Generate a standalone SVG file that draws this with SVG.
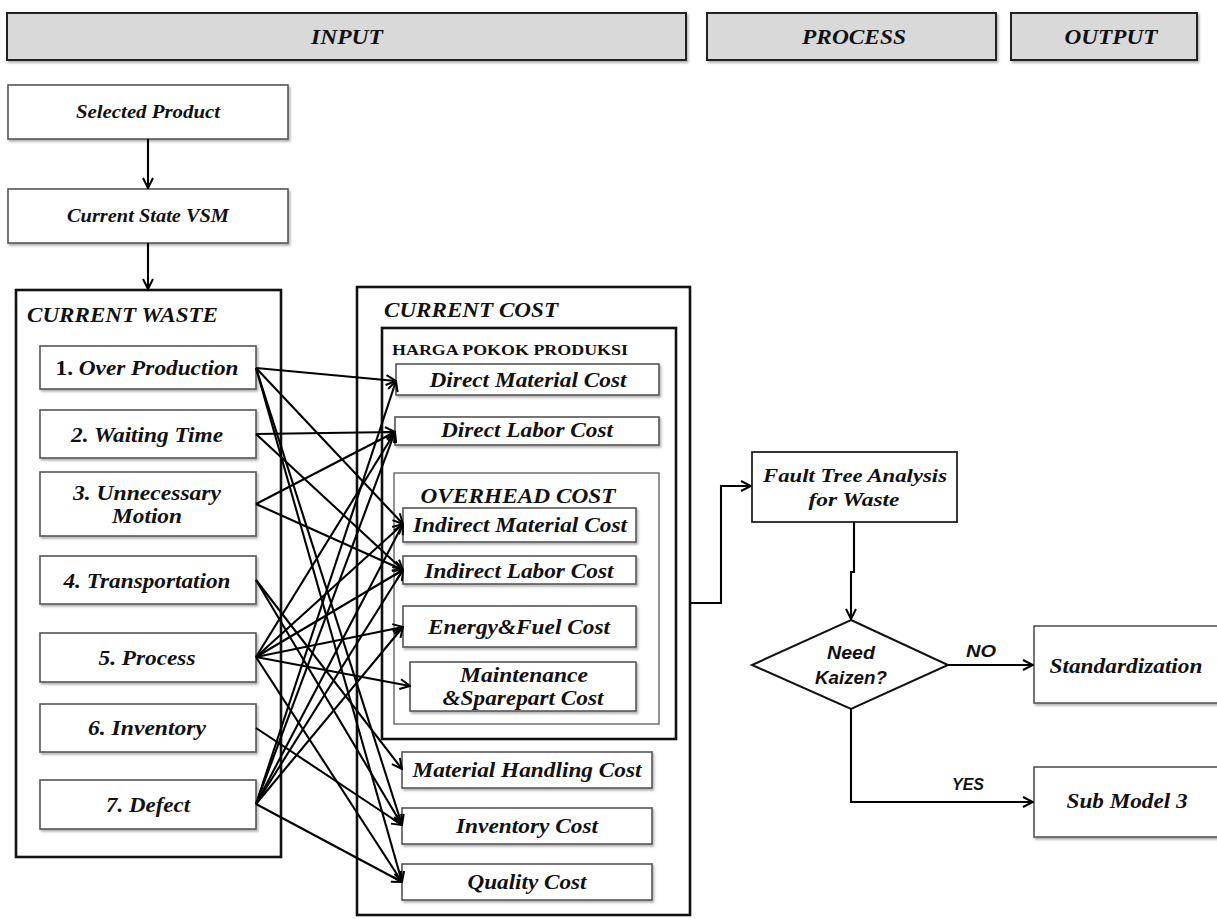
<svg xmlns="http://www.w3.org/2000/svg" width="1217" height="919" viewBox="0 0 1217 919">
<defs>
<marker id="ah" viewBox="0 0 12 12" refX="11" refY="6" markerWidth="12" markerHeight="12" markerUnits="userSpaceOnUse" orient="auto">
<path d="M1,1 L11,6 L1,11" fill="none" stroke="#000" stroke-width="2"/>
</marker>
<filter id="sh" x="-5%" y="-5%" width="110%" height="120%">
<feDropShadow dx="1.5" dy="2" stdDeviation="1" flood-color="#000" flood-opacity="0.3"/>
</filter>
</defs>
<style>
.hdr{fill:#d9d9d9;stroke:#222;stroke-width:2;filter:url(#sh)}
.box{fill:#fff;stroke:#555;stroke-width:1.6;filter:url(#sh)}
.cont{fill:none;stroke:#111;stroke-width:2.6}
.sub{fill:none;stroke:#666;stroke-width:1.4}
.t{font-family:"Liberation Serif",serif;font-weight:bold;font-style:italic;fill:#111;text-anchor:middle}
.l{text-anchor:start}
.s{font-family:"Liberation Sans",sans-serif;font-weight:bold;font-style:italic;fill:#111;text-anchor:middle}
.c line,.c path{stroke:#000;stroke-width:2.1;fill:none;marker-end:url(#ah)}
</style>

<g id="header-input"><rect class="hdr" x="7" y="13" width="679" height="47"/><text class="t" x="347" y="44" font-size="20" textLength="72" lengthAdjust="spacingAndGlyphs">INPUT</text></g>
<g id="header-process"><rect class="hdr" x="707" y="13" width="289" height="47"/><text class="t" x="854" y="44" font-size="20" textLength="104" lengthAdjust="spacingAndGlyphs">PROCESS</text></g>
<g id="header-output"><rect class="hdr" x="1011" y="13" width="186" height="47"/><text class="t" x="1111" y="44" font-size="20" textLength="93" lengthAdjust="spacingAndGlyphs">OUTPUT</text></g>

<g id="selected-product"><rect class="box" x="8" y="85" width="280" height="54"/><text class="t" x="148" y="118" font-size="18" textLength="144" lengthAdjust="spacingAndGlyphs">Selected Product</text></g>
<g id="current-state-vsm"><rect class="box" x="8" y="189" width="280" height="54"/><text class="t" x="148" y="222" font-size="18" textLength="162" lengthAdjust="spacingAndGlyphs">Current State VSM</text></g>

<g id="current-waste"><rect class="cont" x="16" y="290" width="265" height="567"/><text class="t l" x="27" y="322" font-size="20" textLength="191" lengthAdjust="spacingAndGlyphs">CURRENT WASTE</text></g>
<g id="w1"><rect class="box" x="40" y="346" width="216" height="43"/><text class="t" x="147" y="375" font-size="22" textLength="183" lengthAdjust="spacingAndGlyphs"><tspan font-style="normal">1. </tspan>Over Production</text></g>
<g id="w2"><rect class="box" x="40" y="410" width="216" height="48"/><text class="t" x="147" y="442" font-size="22" textLength="152" lengthAdjust="spacingAndGlyphs">2. Waiting Time</text></g>
<g id="w3"><rect class="box" x="40" y="472" width="216" height="64"/><text class="t" x="147" y="500" font-size="22" textLength="148" lengthAdjust="spacingAndGlyphs">3. Unnecessary</text><text class="t" x="147" y="523" font-size="22" textLength="70" lengthAdjust="spacingAndGlyphs">Motion</text></g>
<g id="w4"><rect class="box" x="40" y="556" width="216" height="48"/><text class="t" x="147" y="588" font-size="22" textLength="167" lengthAdjust="spacingAndGlyphs">4. Transportation</text></g>
<g id="w5"><rect class="box" x="40" y="633" width="216" height="49"/><text class="t" x="147" y="665" font-size="22" textLength="97" lengthAdjust="spacingAndGlyphs">5. Process</text></g>
<g id="w6"><rect class="box" x="40" y="704" width="216" height="48"/><text class="t" x="147" y="735" font-size="22" textLength="118" lengthAdjust="spacingAndGlyphs">6. Inventory</text></g>
<g id="w7"><rect class="box" x="40" y="780" width="216" height="49"/><text class="t" x="148" y="812" font-size="22" textLength="84" lengthAdjust="spacingAndGlyphs">7. Defect</text></g>

<g id="current-cost"><rect class="cont" x="357" y="287" width="333" height="628"/><text class="t l" x="384" y="317" font-size="20" textLength="174" lengthAdjust="spacingAndGlyphs">CURRENT COST</text></g>
<g id="hpp"><rect class="cont" x="382" y="328" width="294" height="411"/><text x="392" y="355" font-family="Liberation Serif,serif" font-weight="bold" font-size="14" fill="#111" textLength="236" lengthAdjust="spacingAndGlyphs">HARGA POKOK PRODUKSI</text></g>
<g id="dmc"><rect class="box" x="396" y="364" width="263" height="31"/><text class="t" x="528" y="387" font-size="20" textLength="197" lengthAdjust="spacingAndGlyphs">Direct Material Cost</text></g>
<g id="dlc"><rect class="box" x="395" y="417" width="264" height="28"/><text class="t" x="527" y="437" font-size="20" textLength="172" lengthAdjust="spacingAndGlyphs">Direct Labor Cost</text></g>
<g id="overhead"><rect class="sub" x="394" y="473" width="265" height="251"/><text class="t" x="518" y="503" font-size="20" textLength="195" lengthAdjust="spacingAndGlyphs">OVERHEAD COST</text></g>
<g id="imc"><rect class="box" x="403" y="508" width="233" height="34"/><text class="t" x="520" y="532" font-size="20" textLength="214" lengthAdjust="spacingAndGlyphs">Indirect Material Cost</text></g>
<g id="ilc"><rect class="box" x="403" y="556" width="233" height="28"/><text class="t" x="519" y="578" font-size="20" textLength="189" lengthAdjust="spacingAndGlyphs">Indirect Labor Cost</text></g>
<g id="efc"><rect class="box" x="403" y="606" width="233" height="41"/><text class="t" x="519" y="634" font-size="20" textLength="182" lengthAdjust="spacingAndGlyphs">Energy&amp;Fuel Cost</text></g>
<g id="msc"><rect class="box" x="410" y="662" width="226" height="49"/><text class="t" x="524" y="682" font-size="20" textLength="128" lengthAdjust="spacingAndGlyphs">Maintenance</text><text class="t" x="523" y="705" font-size="20" textLength="161" lengthAdjust="spacingAndGlyphs">&amp;Sparepart Cost</text></g>
<g id="mhc"><rect class="box" x="402" y="752" width="250" height="36"/><text class="t" x="527" y="777" font-size="20" textLength="229" lengthAdjust="spacingAndGlyphs">Material Handling Cost</text></g>
<g id="ivc"><rect class="box" x="402" y="808" width="250" height="36"/><text class="t" x="527" y="833" font-size="20" textLength="142" lengthAdjust="spacingAndGlyphs">Inventory Cost</text></g>
<g id="qc"><rect class="box" x="402" y="864" width="250" height="36"/><text class="t" x="527" y="889" font-size="20" textLength="119" lengthAdjust="spacingAndGlyphs">Quality Cost</text></g>

<g id="fta"><rect x="752" y="452" width="205" height="70" fill="#fff" stroke="#222" stroke-width="1.8"/><text class="t" x="855" y="482" font-size="19" textLength="184" lengthAdjust="spacingAndGlyphs">Fault Tree Analysis</text><text class="t" x="854" y="506" font-size="19" textLength="91" lengthAdjust="spacingAndGlyphs">for Waste</text></g>
<g id="decision"><polygon points="851,620 948,665 851,709 752,665" fill="#fff" stroke="#111" stroke-width="2"/><text class="s" x="851" y="659" font-size="18" textLength="48" lengthAdjust="spacingAndGlyphs">Need</text><text class="s" x="851" y="684" font-size="18" textLength="72" lengthAdjust="spacingAndGlyphs">Kaizen?</text></g>
<g id="standardization"><rect class="box" x="1034" y="626" width="200" height="77"/><text class="t" x="1126" y="673" font-size="20" textLength="153" lengthAdjust="spacingAndGlyphs">Standardization</text></g>
<g id="submodel3"><rect class="box" x="1034" y="767" width="200" height="70"/><text class="t" x="1127" y="808" font-size="20" textLength="121" lengthAdjust="spacingAndGlyphs">Sub Model 3</text></g>

<g id="connectors" class="c">
<line x1="148" y1="139" x2="148" y2="188"/>
<line x1="148" y1="243" x2="148" y2="289"/>
<line x1="256" y1="368" x2="396" y2="381"/>
<line x1="256" y1="368" x2="403" y2="524"/>
<line x1="256" y1="368" x2="402" y2="825"/>
<line x1="256" y1="368" x2="402" y2="882"/>
<line x1="256" y1="434" x2="395" y2="432"/>
<line x1="256" y1="434" x2="403" y2="570"/>
<line x1="256" y1="504" x2="395" y2="432"/>
<line x1="256" y1="504" x2="403" y2="570"/>
<line x1="256" y1="580" x2="402" y2="769"/>
<line x1="256" y1="580" x2="402" y2="825"/>
<line x1="256" y1="657" x2="395" y2="432"/>
<line x1="256" y1="657" x2="403" y2="524"/>
<line x1="256" y1="657" x2="403" y2="570"/>
<line x1="256" y1="657" x2="403" y2="627"/>
<line x1="256" y1="657" x2="410" y2="686"/>
<line x1="256" y1="657" x2="402" y2="882"/>
<line x1="256" y1="728" x2="402" y2="825"/>
<line x1="256" y1="804" x2="396" y2="381"/>
<line x1="256" y1="804" x2="395" y2="432"/>
<line x1="256" y1="804" x2="403" y2="524"/>
<line x1="256" y1="804" x2="403" y2="570"/>
<line x1="256" y1="804" x2="403" y2="627"/>
<line x1="256" y1="804" x2="402" y2="882"/>
<path d="M690,603 H721 V486 H751"/>
<path d="M854,522 V572 H851 V619"/>
<line x1="948" y1="665" x2="1033" y2="665"/>
<path d="M851,709 V802 H1033"/>
</g>
<text class="s" x="981" y="657" font-size="17" textLength="30" lengthAdjust="spacingAndGlyphs">NO</text>
<text class="s" x="968" y="790" font-size="17" textLength="32" lengthAdjust="spacingAndGlyphs">YES</text>
</svg>
